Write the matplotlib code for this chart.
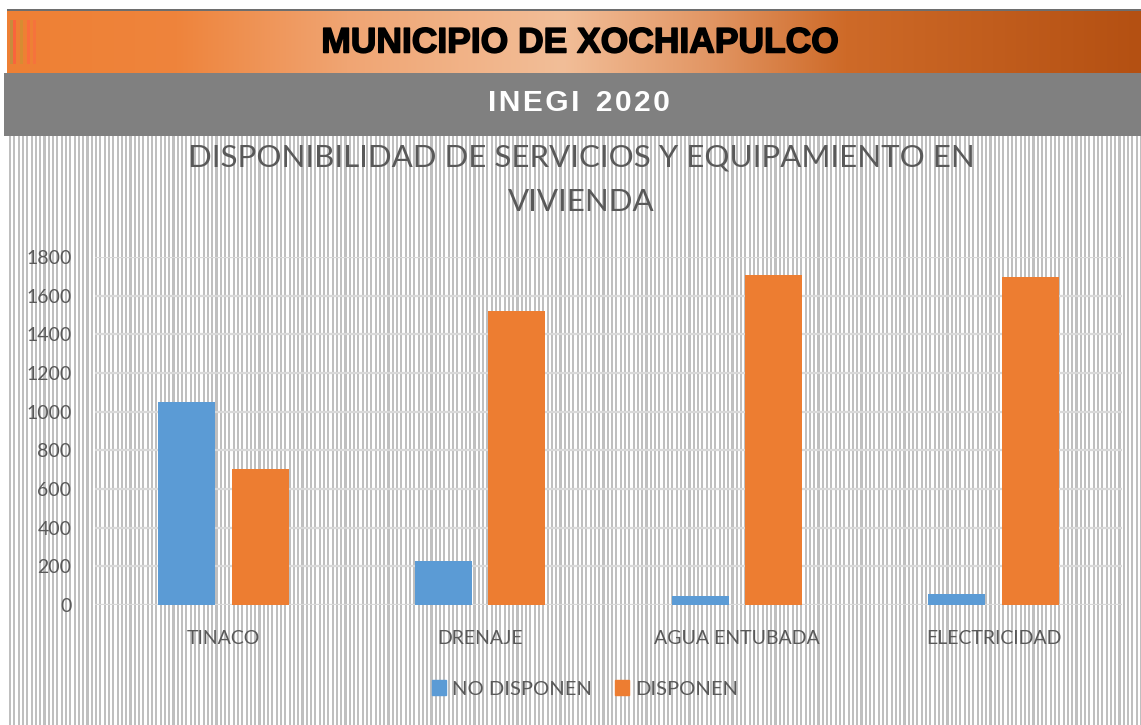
import numpy as np
import matplotlib
matplotlib.use("Agg")
import matplotlib.pyplot as plt
from matplotlib.patches import Patch
import matplotlib.patheffects as pe

categories = ["TINACO", "DRENAJE", "AGUA ENTUBADA", "ELECTRICIDAD"]
no_disponen = [1050, 228, 47, 57]
disponen = [703, 1521, 1707, 1697]
yticks = [0, 200, 400, 600, 800, 1000, 1200, 1400, 1600, 1800]
series_names = ["NO DISPONEN", "DISPONEN"]

W, H = 1141, 725
DPI = 100
BLUE = "#5b9bd5"
ORANGE = "#ed7d31"
TXT = "#595959"

fig = plt.figure(figsize=(W / DPI, H / DPI), dpi=DPI)

# ---- background image (decorative): stripes, header gradient, gray bar ----
img = np.ones((H, W, 3))
xs = np.arange(W)
stripe = ((xs * 1.0) % 4.3) < 2.1
for x in xs[8:]:
    if stripe[x]:
        img[136:H, x, :] = np.array([191, 191, 191]) / 255
img[73:136, 4:W, :] = np.array([128, 128, 128]) / 255
stops = np.array([0.0, 0.15, 0.3, 0.49, 0.62, 0.74, 1.0])
cols = np.array([[238, 128, 52], [238, 132, 60], [240, 165, 115], [242, 190, 152],
                 [226, 150, 100], [206, 106, 40], [180, 80, 18]]) / 255
t = np.linspace(0, 1, W - 7)
grad = np.stack([np.interp(t, stops, cols[:, k]) for k in range(3)], axis=1)
img[11:73, 7:W, :] = grad[None, :, :]
for x0, c in [(10, (200, 140, 60)), (13, (250, 100, 60)), (20, (215, 140, 50)),
              (27, (250, 110, 60)), (33, (245, 115, 60))]:
    img[20:64, x0:x0 + 3, :] = np.array(c) / 255
img[9:11, 7:W, :] = np.array([110, 110, 110]) / 255

bg = fig.add_axes([0, 0, 1, 1], zorder=-10)
bg.imshow(img, aspect="auto", interpolation="nearest", extent=(0, W, H, 0))
bg.set_axis_off()

# ---- header texts ----
fig.text(580 / W, 1 - 43 / H, "MUNICIPIO DE XOCHIAPULCO", ha="center", va="center",
         fontsize=25.5, fontweight="bold", family="Liberation Sans", color="black",
         path_effects=[pe.withStroke(linewidth=1.1, foreground="black")])
fig.text(579 / W, 1 - 103 / H, "I\u200aN\u200aE\u200aG\u200aI  2\u200a0\u200a2\u200a0",
         ha="center", va="center", fontsize=21.5, fontweight="bold",
         family=["Liberation Sans", "DejaVu Sans"], color="white")

# ---- title ----
fig.text(581 / W, 1 - 180 / H, "DISPONIBILIDAD DE SERVICIOS Y EQUIPAMIENTO EN\nVIVIENDA",
         ha="center", va="center", fontsize=22.5, family="Lato",
         color=TXT, linespacing=1.72)

# ---- main axes ----
left, right = 95, 1122
top, bottom = 257, 605
ax = fig.add_axes([left / W, 1 - bottom / H, (right - left) / W, (bottom - top) / H])
ax.patch.set_alpha(0)
x = np.arange(len(categories))
bw = 0.222
off = 0.143
ax.bar(x - off, no_disponen, bw, color=BLUE, label=series_names[0], zorder=3)
ax.bar(x + off, disponen, bw, color=ORANGE, label=series_names[1], zorder=3)
ax.set_xlim(-0.5, len(categories) - 0.5)
ax.set_ylim(0, 1800)
ax.set_yticks(yticks)
ax.set_yticklabels([str(v) for v in yticks], fontsize=14, color=TXT, family="Lato")
ax.set_xticks(x)
ax.set_xticklabels(categories, fontsize=14, color=TXT, family="Lato")
ax.tick_params(axis="both", length=0)
ax.tick_params(axis="y", pad=17)
ax.tick_params(axis="x", pad=18)
ax.grid(axis="y", color="#d9d9d9", linewidth=1.6, zorder=0)
for s in ax.spines.values():
    s.set_visible(False)

handles = [Patch(color=BLUE, label=series_names[0]), Patch(color=ORANGE, label=series_names[1])]
fig.legend(handles=handles, loc="center", bbox_to_anchor=(585 / W, 1 - 689 / H), ncol=2,
           frameon=False, prop={"family": "Lato", "size": 14.5}, labelcolor=TXT,
           handlelength=0.7, handleheight=0.7, handletextpad=0.3, columnspacing=1.1)

fig.savefig("out.png", dpi=DPI)
